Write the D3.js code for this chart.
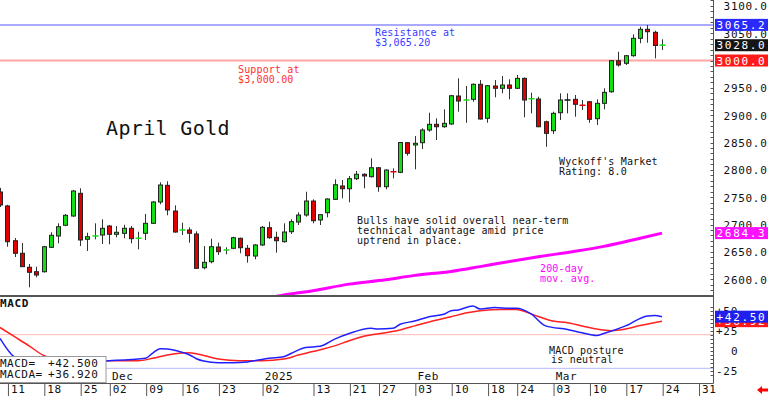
<!DOCTYPE html>
<html><head><meta charset="utf-8">
<script src="https://cdn.jsdelivr.net/npm/d3@7"></script>
<style>body{margin:0;background:#fff}svg{display:block}</style>
</head><body><svg id="c" width="768" height="396"></svg>
<script>
// ---------------- DATA ----------------
const dayIndex = d3.range(-2, 90); // trading-day index, 0 = Nov 11
const open = [2759.5,2734,2670.4,2647.4,2621.8,2613.7,2613.7,2658.3,2679,2698.6,2715.6,2757.1,2673,2679,2680.8,2697.3,2682.1,2683.9,2693.1,2675,2683.9,2702.2,2741.2,2771.7,2724.7,2690,2690,2682.7,2621,2632,2658.9,2653.4,2656.5,2674.8,2656.5,2642.4,2662.6,2694.2,2676.6,2668.6,2686.9,2704.6,2717.4,2743,2708.3,2721.6,2746.1,2770.5,2765.5,2783.8,2791.9,2787.5,2803.9,2769.2,2796.6,2795.5,2849.7,2845.5,2849.7,2872.9,2883.3,2878.9,2883.9,2935.1,2927.8,2929,2956.5,2894.3,2953.4,2949.2,2955.2,2949.2,2967.4,2930.1,2929.6,2888,2871.6,2904.5,2927.8,2929,2918.1,2924.6,2893.6,2921.7,2942.9,2999.6,2994.9,3008.8,3040.6,3057.1,3051.6,3028];
const high = [2767,2736,2675.3,2666.2,2627.8,2622.9,2661,2685.8,2702.2,2719.3,2763,2766.3,2685,2702.2,2709.6,2699,2697.3,2699.6,2697.3,2686.9,2719.3,2743,2777.2,2779.1,2735.2,2703.3,2694.9,2687.6,2660.7,2674.1,2666.8,2658.3,2677.7,2676,2662.6,2664,2697.3,2705.2,2686.9,2702.2,2709.6,2722.4,2760,2746.1,2719,2748,2782.7,2781.4,2788.8,2797.9,2793.7,2821.1,2805,2801,2802.8,2851,2851,2861.9,2876,2904.5,2894.3,2910.7,2937,2967.4,2953.4,2958,2964.3,2955,2964.3,2971.6,2965.6,2973.5,2969,2941.1,2933.8,2890,2906.4,2940,2940,2936.9,2927.8,2926,2929,2949.2,3000.5,3016.1,3010,3047.9,3061.8,3064.9,3054.5,3038.8];
const low = [2732,2659.4,2640.6,2622.3,2585.2,2603.5,2612,2657,2665.7,2697,2714,2660.7,2651.6,2673,2664.4,2663.8,2676.6,2674.8,2665.7,2654.7,2671.7,2701,2737,2716.9,2685,2680.8,2666.8,2619,2618.1,2629.1,2644.3,2645.5,2655,2647.4,2630.2,2636.4,2660.7,2674,2648.5,2667,2682.7,2699.1,2714.3,2702.2,2699.1,2713.2,2745,2748,2740.6,2781.4,2766.3,2786,2760,2764.4,2784.5,2794,2825.9,2801,2838.1,2869.8,2854.6,2877,2882,2906.4,2886.2,2924.6,2892,2886.2,2932.7,2940,2929,2948,2896.1,2903.4,2878,2842.3,2865.6,2891.2,2903.4,2897.2,2909.5,2886.2,2882,2910.7,2941,2988.7,2991.8,3007,3031.5,3032.6,3004,3019.2];
const close = [2735.7,2668.6,2647.4,2622.9,2612.6,2607.7,2659.4,2680.3,2696,2716.9,2761.3,2671.7,2677.7,2679,2693.1,2682.1,2685.8,2693.1,2674.1,2675,2702.2,2741.2,2772.3,2726.6,2686.3,2690,2684,2619.9,2630.9,2659.4,2650.3,2653.4,2675.9,2657.6,2643,2662.6,2694.9,2675.9,2670.4,2686.3,2705.2,2717.4,2743,2707,2718,2746.7,2772.8,2765.5,2783.8,2791.9,2788.8,2803.9,2769.2,2799.7,2796.6,2850,2830.3,2848.6,2872.9,2883.3,2878.9,2885.1,2935.6,2925.9,2927.8,2956.5,2893,2953.9,2949.2,2955.2,2949.2,2967.4,2927.8,2930.1,2878.9,2866.8,2903.4,2927.8,2927.8,2919.9,2918.1,2892.5,2921.7,2941.8,2999.6,2991.8,3008.8,3040.6,3057.1,3052.7,3027.5,3028];

const maDays   = [34,37,41,46,51,55,60,64,67,72,76,81,86,89];
const maValues = [2564,2571,2579,2591,2599,2607,2614,2623,2630,2641,2649,2660,2675,2684.3];

const macdDays   = [-2,0,1,3,7,10,13,16,18,19,20,21,22,23,24,25,26,28,30,32,34,35,37,38,40,42,44,46,49,50,52,53,55,57,59,60,61,63,64,66,68,69,71,73,76,78,80,81,84,87,88,89];
const macdValues = [15.5,-8,-11,-14,-15,-14,-12.5,-11,-9.5,-3,2.5,2,0.5,-2,-5,-10,-13,-15,-15,-14,-11,-9.5,-7.5,-3.5,4,5.5,14.5,21.5,28,27,28,33,37,42.5,45.5,50,51,56,52,54,53,53,46,31,26.5,22.5,19,21.5,31,43.5,44,42.5];
const signalDays   = [-2,0,2,4,6,8,10,13,17,19,21,23,24,26,28,31,34,37,39,41,44,46,48,51,53,55,57,60,62,64,67,69,71,74,76,78,80,82,84,86,89];
const signalValues = [29,17.5,6,-6,-11,-13,-14,-12.5,-12.5,-9.5,-5.5,-3,-2.5,-6,-10.5,-12.5,-12.5,-10.5,-5.5,-1,6,12.5,18,22.5,26,31,36,42.5,47,50,51.5,51.5,46,37,35,31,27,25,27,31.5,36.92];
const macdLevels = [20, -22];

const resistance = 3065.2, support = 3000.0;
const priceTicks = [2600,2650,2700,2750,2800,2850,2900,2950,3050,3100];
const macdTicks = [50,25,0,-25];
const macdTickLabels = ["+50","+25","0","-25"];
const dateTickIdx = [0,5,10,14,19,24,29,35,42,47,51,56,61,66,70,75,80,85,90,95];
const dateTickLabels = ["11","18","25","02","09","16","23","02","13","21","27","03","10","18","24","03","10","17","24","31"];
const monthIdx = [14,35,56,75];
const monthLabels = ["Dec","2025","Feb","Mar"];

// ---------------- CHART ----------------
const svg = d3.select("#c");
const MONO = "'DejaVu Sans Mono', monospace";
const axisX = 713.5;
const x = d3.scaleLinear().domain([0, 89]).range([14.55, 662.0]);
const y = d3.scaleLinear().domain([2600, 3100]).range([279.2, 5.85]);
const ym = d3.scaleLinear().domain([-25, 50]).range([370.7, 310.7]);

svg.append("rect").attr("width",768).attr("height",396).attr("fill","#fff");
const defs = svg.append("defs");
defs.append("clipPath").attr("id","pc").append("rect").attr("x",0).attr("y",0).attr("width",713).attr("height",295);
defs.append("clipPath").attr("id","mc").append("rect").attr("x",0).attr("y",297).attr("width",713).attr("height",86);

// support / resistance
svg.append("line").attr("x1",0).attr("x2",713).attr("y1",y(resistance)).attr("y2",y(resistance))
  .attr("stroke","#8c8cff").attr("stroke-width",1.5);
svg.append("line").attr("x1",0).attr("x2",713).attr("y1",y(support)).attr("y2",y(support))
  .attr("stroke","#ffa6a6").attr("stroke-width",2);

// 200-day MA
svg.append("path").datum(d3.zip(maDays, maValues))
  .attr("d", d3.line().x(d=>x(d[0])).y(d=>y(d[1])).curve(d3.curveMonotoneX))
  .attr("fill","none").attr("stroke","#ff00ff").attr("stroke-width",3).attr("clip-path","url(#pc)");

// candles
const candles = dayIndex.map((d,i)=>({d, o:open[i], h:high[i], l:low[i], c:close[i], pc: i>0 ? close[i-1] : close[i]}));
const cg = svg.append("g").attr("clip-path","url(#pc)");
const cx = d => Math.round(x(d.d)) + 0.5;
cg.selectAll("line.w").data(candles).join("line").attr("class","w")
  .attr("x1",cx).attr("x2",cx).attr("y1",d=>y(d.h)).attr("y2",d=>y(d.l))
  .attr("stroke","#333").attr("stroke-width",1);
const isDoji = d => Math.abs(d.o - d.c) < 0.05;
cg.selectAll("rect.b").data(candles.filter(d=>!isDoji(d))).join("rect").attr("class","b")
  .attr("x",d=>cx(d)-2).attr("width",4)
  .attr("y",d=>y(Math.max(d.o,d.c))).attr("height",d=>Math.max(1, Math.abs(y(d.o)-y(d.c))))
  .attr("fill",d=>d.c>d.o ? "#12e012" : "#e00000").attr("stroke","#222").attr("stroke-width",1);
cg.selectAll("line.dj").data(candles.filter(isDoji)).join("line").attr("class","dj")
  .attr("x1",d=>cx(d)-3).attr("x2",d=>cx(d)+3).attr("y1",d=>y(d.c)).attr("y2",d=>y(d.c))
  .attr("stroke",d=>d.c>d.pc ? "#12e012" : (d.c<d.pc ? "#e00000" : "#111")).attr("stroke-width",1.5);

// annotation texts
function txt(tx, ty, s, color, size, extra) {
  return svg.append("text").attr("x",tx).attr("y",ty).text(s)
    .attr("font-family",MONO).attr("font-size",size||10).attr("fill",color||"#111")
    .attr("letter-spacing", (extra!==undefined?extra:0.15));
}
txt(375, 35.5, "Resistance at", "#3a3aff");
txt(375, 46, "$3,065.20", "#3a3aff");
txt(238, 72.5, "Support at", "#ff3030");
txt(238, 82.5, "$3,000.00", "#ff3030");
txt(106, 135, "April Gold", "#111", 20, 0.35);
txt(559, 164.5, "Wyckoff's Market", "#111");
txt(559, 174.5, "Rating: 8.0", "#111");
txt(357, 223.5, "Bulls have solid overall near-term", "#111", 10, 0.2);
txt(357, 233.5, "technical advantage amid price", "#111", 10, 0.2);
txt(357, 243.5, "uptrend in place.", "#111", 10, 0.2);
txt(540, 271.5, "200-day", "#ff00ff");
txt(540, 281.5, "mov. avg.", "#ff00ff");
txt(549, 353.5, "MACD posture", "#111", 10, 0.2);
txt(551, 363, "is neutral", "#111", 10, 0.2);

// MACD panel
const mg = svg.append("g").attr("clip-path","url(#mc)");
mg.append("line").attr("x1",0).attr("x2",713).attr("y1",ym(macdLevels[0])).attr("y2",ym(macdLevels[0]))
  .attr("stroke","#ffb8b8").attr("stroke-width",1);
mg.append("line").attr("x1",0).attr("x2",713).attr("y1",ym(macdLevels[1])).attr("y2",ym(macdLevels[1]))
  .attr("stroke","#b8b8ff").attr("stroke-width",1);
const ml = d3.line().x(d=>x(d[0])).y(d=>ym(d[1])).curve(d3.curveMonotoneX);
mg.append("path").datum(d3.zip(signalDays, signalValues)).attr("d",ml)
  .attr("fill","none").attr("stroke","#ff2020").attr("stroke-width",1.5);
mg.append("path").datum(d3.zip(macdDays, macdValues)).attr("d",ml)
  .attr("fill","none").attr("stroke","#2020ff").attr("stroke-width",1.5);

svg.append("text").attr("x",0).attr("y",307).text("MACD").attr("font-family",MONO)
  .attr("font-size",11).attr("font-weight","bold").attr("letter-spacing",0.6).attr("fill","#111");

// month labels
svg.selectAll("text.mo").data(monthIdx).join("text").attr("class","mo")
  .attr("x",d=>x(d)-4.5).attr("y",380).text((d,i)=>monthLabels[i])
  .attr("font-family",MONO).attr("font-size",11).attr("letter-spacing",0.5).attr("fill","#111");

// legend box
const lastM = macdValues[macdValues.length-1], lastS = signalValues[signalValues.length-1];
const sgn = v => (v>=0?"+":"");
svg.append("rect").attr("x",-1).attr("y",356.5).attr("width",107).attr("height",26)
  .attr("fill","#fff").attr("stroke","#9a9a9a");
[["MACD=", lastM, 367], ["MACDA=", lastS, 378]].forEach(r=>{
  txt(0, r[2], r[0], "#111", 11, 0.5);
  txt(48, r[2], sgn(r[1])+r[1].toFixed(3), "#111", 11, 0.6);
});

// frame lines
svg.append("line").attr("x1",0).attr("x2",axisX).attr("y1",296).attr("y2",296).attr("stroke","#555").attr("stroke-width",2);
svg.append("line").attr("x1",0).attr("x2",axisX).attr("y1",383.5).attr("y2",383.5).attr("stroke","#555").attr("stroke-width",1);
svg.append("line").attr("x1",axisX).attr("x2",axisX).attr("y1",0).attr("y2",383.5).attr("stroke","#555").attr("stroke-width",1);

// date axis
const dax = d3.axisBottom(x).tickValues(dateTickIdx).tickSize(13).tickFormat((d,i)=>dateTickLabels[i]);
const dg = svg.append("g").attr("transform","translate(-6.6,383.5)").call(dax);
dg.select(".domain").remove();
dg.selectAll(".tick line").attr("stroke","#555");
dg.selectAll(".tick text").attr("x",2.5).attr("y",9.5).attr("dy",0).attr("text-anchor","start")
  .attr("font-family",MONO).attr("font-size",11).attr("letter-spacing",0.6).attr("fill","#111");

// price axis minor ticks + labels
const minor = d3.range(2580, 3111, 10);
svg.selectAll("line.mt").data(minor).join("line").attr("class","mt")
  .attr("x1",axisX-3).attr("x2",axisX).attr("y1",d=>Math.round(y(d))+0.5).attr("y2",d=>Math.round(y(d))+0.5)
  .attr("stroke","#555");
const pax = d3.axisRight(y).tickValues(priceTicks).tickSize(0).tickFormat(d=>d.toFixed(1));
const pg = svg.append("g").attr("transform",`translate(${axisX},0)`).call(pax);
pg.select(".domain").remove();
pg.selectAll(".tick text").attr("x",54).attr("text-anchor","end").attr("dy","0.36em")
  .attr("font-family",MONO).attr("font-size",11).attr("letter-spacing",0.7).attr("fill","#111");

// macd axis
const mminor = d3.range(-30, 56, 5);
svg.selectAll("line.mmt").data(mminor).join("line").attr("class","mmt")
  .attr("x1",axisX-3).attr("x2",axisX).attr("y1",d=>Math.round(ym(d))+0.5).attr("y2",d=>Math.round(ym(d))+0.5)
  .attr("stroke","#555");
svg.selectAll("text.ml").data(macdTicks).join("text").attr("class","ml")
  .attr("x",d=>d===0?731:716).attr("y",d=>ym(d)+4).text((d,i)=>macdTickLabels[i])
  .attr("font-family",MONO).attr("font-size",11).attr("letter-spacing",0.7).attr("fill","#111");

// value boxes
function vbox(yc, label, fill) {
  svg.append("rect").attr("x",715).attr("y",yc-6).attr("width",53).attr("height",12).attr("fill",fill);
  svg.append("text").attr("x",716.5).attr("y",yc+4).text(label).attr("fill","#fff")
    .attr("font-family",MONO).attr("font-size",11).attr("letter-spacing",1.7);
}
vbox(y(resistance), resistance.toFixed(1), "#2a2aff");
vbox(y(close[close.length-1]), close[close.length-1].toFixed(1), "#151515");
vbox(y(support), support.toFixed(1), "#ff1a1a");
vbox(y(maValues[maValues.length-1]), maValues[maValues.length-1].toFixed(1), "#ff10ff");
vbox(ym(lastS), sgn(lastS)+lastS.toFixed(2), "#ff1a1a");
vbox(ym(lastM), sgn(lastM)+lastM.toFixed(2), "#2020ee");

// red arrow bottom right
svg.append("path").attr("d","M757,390 L762,386 L762,388.5 L768,388.5 L768,391.5 L762,391.5 L762,394 Z").attr("fill","#ff0000");
</script></body></html>
